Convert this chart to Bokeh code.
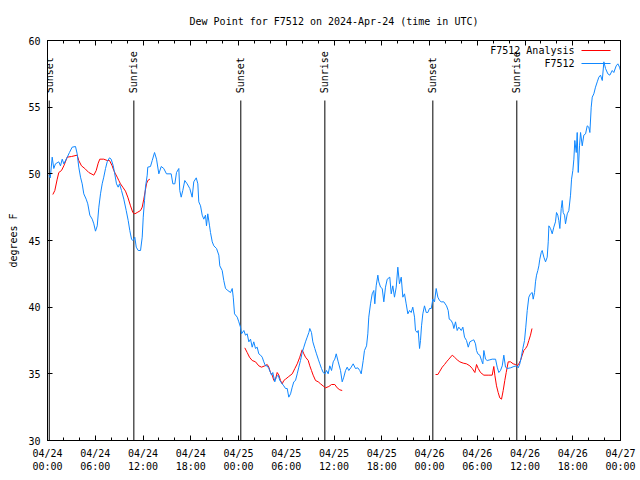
import pandas as pd
from math import pi
from bokeh.plotting import figure
from bokeh.models import (Range1d, FixedTicker, DatetimeTickFormatter, DatetimeAxis,
                          LinearAxis, Label, BoxAnnotation)
from bokeh.core.properties import value
from bokeh.embed import file_html
from bokeh.resources import INLINE

# ---------------- data (hours after 2024-04-24 00:00 UTC, degrees F) ----------------
START = pd.Timestamp("2024-04-24 00:00")

obs_hours = [0.2, 0.35, 0.59, 0.79, 1.0, 1.42, 1.63, 1.85, 2.05, 2.48, 2.76, 3.10, 3.52, 3.73, 3.93,
             4.15, 4.36, 4.56, 4.86, 5.06, 5.32, 5.62, 5.82, 6.03, 6.25, 6.45, 6.66, 6.87, 7.07, 7.29,
             7.50, 7.79, 8.0, 8.26, 8.42, 8.67, 8.88, 9.05, 9.30, 9.59, 9.89, 10.14, 10.34, 10.56,
             10.72, 10.97, 11.15, 11.40, 11.69, 11.90, 12.03, 12.19, 12.31, 12.53, 12.60, 12.94,
             13.16, 13.45, 13.70, 13.99, 14.29, 14.61, 14.95, 15.54, 15.75, 16.0, 16.21, 16.50,
             16.62, 16.80, 17.0, 17.25, 17.55, 17.88, 18.18, 18.38, 18.69, 18.89, 19.01, 19.23,
             19.44, 19.64, 19.85, 19.98, 20.14, 20.36, 20.48, 20.70, 20.90, 21.24, 21.53, 21.65,
             21.95, 22.15, 22.37, 22.66, 23.0, 23.21, 23.34, 23.50, 23.84, 24.04, 24.25, 24.38,
             24.67, 24.88, 25.09, 25.30, 25.51, 25.72, 25.92, 26.14, 26.35, 26.55, 26.77, 26.98,
             27.18, 27.39, 27.61, 27.81, 28.02, 28.15, 28.31, 28.56, 28.74, 28.99, 29.19, 29.49,
             29.69, 29.91, 30.12, 30.32, 30.54, 30.75, 30.95, 31.16, 31.38, 31.58, 31.79, 32.0,
             32.21, 32.42, 32.63, 32.84, 32.96, 33.17, 33.34, 33.59, 33.80, 34.02, 34.22, 34.43,
             34.64, 34.85, 35.06, 35.27, 35.47, 35.69, 35.90, 36.10, 36.28, 36.53, 36.82, 37.03,
             37.23, 37.45, 37.66, 37.86, 38.16, 38.41, 38.70, 38.99, 39.24, 39.42, 39.67, 39.83,
             40.09, 40.25, 40.37, 40.59, 40.80, 41.0, 41.13, 41.30, 41.51, 41.63, 41.85, 42.06,
             42.26, 42.47, 42.69, 43.01, 43.19, 43.39, 43.60, 43.82, 44.02, 44.23, 44.45, 44.65,
             44.86, 45.07, 45.28, 45.49, 45.70, 45.90, 46.12, 46.24, 46.46, 46.58, 46.75, 46.87,
             47.0, 47.16, 47.37, 47.59, 47.79, 48.0, 48.22, 48.42, 48.63, 48.84, 49.05, 49.26,
             49.47, 49.80, 50.14, 50.35, 50.48, 50.73, 50.93, 51.06, 51.27, 51.48, 51.68, 51.99,
             52.19, 52.40, 52.65, 52.87, 53.07, 53.37, 53.57, 53.78, 53.91, 54.07, 54.32, 54.54,
             54.70, 54.83, 55.04, 55.25, 55.58, 55.88, 56.30, 56.51, 56.71, 56.92, 57.14, 57.34,
             57.55, 57.77, 58.18, 58.60, 58.94, 59.15, 59.35, 59.53, 59.73, 59.94, 60.10, 60.28,
             60.48, 60.69, 60.91, 61.03, 61.20, 61.32, 61.45, 61.61, 61.74, 61.86, 62.04, 62.16,
             62.37, 62.58, 62.79, 62.92, 63.0, 63.21, 63.42, 63.62, 63.83, 63.96, 64.12, 64.25,
             64.38, 64.55, 64.68, 64.80, 64.97, 65.09, 65.31, 65.51, 65.72, 65.85, 66.01, 66.14,
             66.26, 66.44, 66.56, 66.69, 66.85, 66.98, 67.19, 67.39, 67.61, 67.82, 68.02, 68.15,
             68.32, 68.45, 68.65, 68.86, 69.08, 69.28, 69.49, 69.71, 69.91, 70.12, 70.41, 70.66,
             70.96, 71.16, 71.46, 71.67, 71.88, 72.0]
obs_dewpt = [49.9, 49.7, 51.25, 50.4, 50.75, 50.9, 50.6, 51.1, 50.75, 51.25, 51.6, 52.0, 52.05, 51.5, 50.5,
             49.75, 49.25, 48.5, 48.1, 47.75, 46.9, 46.6, 46.25, 45.7, 46.1, 47.5, 48.5, 49.25, 49.75, 50.4,
             50.9, 51.2, 51.1, 50.6, 50.1, 49.25, 49.0, 49.25, 48.75, 48.1, 47.25, 46.5, 45.75, 45.1,
             45.0, 45.25, 44.5, 44.25, 44.25, 45.25, 46.75, 48.0, 49.0, 49.9, 50.5, 50.55,
             51.0, 51.6, 51.1, 50.0, 50.55, 50.4, 50.0, 50.0, 49.25, 49.25, 50.1, 50.4,
             48.75, 48.25, 48.75, 49.5, 49.25, 48.9, 48.25, 49.4, 49.7, 49.25, 47.9, 47.6,
             46.9, 46.6, 46.9, 46.1, 47.0, 46.1, 45.6, 44.9, 44.6, 44.4, 43.9, 43.1,
             42.75, 42.0, 41.4, 41.25, 41.1, 41.4, 40.75, 39.5, 39.25, 38.9, 38.5, 38.0,
             38.25, 37.9, 38.0, 37.4, 37.6, 37.0, 37.4, 36.9, 37.0, 36.5, 36.4, 36.25,
             35.9, 35.6, 35.6, 35.4, 35.1, 34.9, 35.1, 34.4, 34.75, 34.9, 34.5, 34.25,
             34.1, 33.9, 33.9, 33.25, 33.5, 34.0, 34.4, 34.5, 35.0, 35.5, 36.0, 36.6,
             37.0, 37.4, 37.75, 38.1, 38.4, 38.1, 37.4, 36.9, 36.5, 36.1, 35.75, 35.4,
             35.1, 35.0, 35.25, 35.0, 35.6, 35.25, 35.9, 36.1, 36.5, 35.9, 35.25, 34.4,
             34.75, 35.25, 35.5, 35.25, 35.5, 35.75, 35.4, 35.45, 35.25, 35.0, 36.0, 36.75,
             37.1, 38.0, 39.25, 40.25, 41.0, 41.25, 40.25, 41.6, 42.4, 41.9, 41.5, 41.4,
             40.4, 41.5, 42.1, 42.25, 41.0, 41.6, 40.75, 41.5, 43.0, 41.75, 42.25, 40.75,
             41.0, 40.25, 39.5, 39.75, 39.6, 40.0, 39.25, 38.25, 38.1, 38.25, 36.9, 37.5,
             38.6, 39.5, 40.1, 39.6, 39.6, 39.9, 39.9, 40.6, 40.4, 41.4, 40.75, 40.5,
             40.4, 40.4, 40.1, 39.75, 39.1, 39.0, 38.75, 38.4, 38.9, 38.25, 38.5, 38.25,
             38.5, 37.75, 37.5, 37.0, 37.4, 37.5, 37.55, 37.25, 36.75, 36.5, 36.4, 36.0,
             35.75, 36.75, 36.1, 36.0, 36.05, 36.1, 36.1, 35.5, 35.1, 35.25, 35.6, 36.4,
             35.5, 35.4, 35.45, 35.55, 35.6, 35.45, 35.75, 36.25, 36.9, 37.5, 38.5, 39.75,
             40.75, 41.0, 41.1, 40.6, 41.1, 41.9, 42.4, 42.75, 43.1, 43.6, 44.1, 44.25,
             43.75, 43.4, 43.75, 44.9, 46.1, 45.9, 45.5, 46.0, 46.4, 47.1, 46.9, 46.5,
             45.9, 47.4, 48.0, 47.1, 46.9, 46.25, 47.0, 47.25, 48.4, 49.6, 50.25, 51.1,
             52.5, 51.6, 53.1, 50.1, 52.1, 53.1, 52.1, 52.9, 53.0, 53.6, 53.5, 53.1,
             55.0, 55.75, 56.0, 56.5, 56.9, 57.25, 57.4, 57.0, 58.4, 57.9, 57.5, 57.4,
             57.75, 57.6, 58.1, 58.25, 58.0, 57.75]

# analysis series, three separate runs
ana1_hours = [0.67, 0.92, 1.22, 1.42, 1.76, 2.05, 2.48, 3.02, 3.73, 3.93, 4.27, 4.69, 5.19, 5.82, 6.12,
              6.37, 6.57, 7.07, 7.50, 7.79, 8.13, 8.33, 8.54, 8.76, 8.96, 9.17, 9.46, 9.80, 10.09,
              10.43, 10.72, 10.97, 11.27, 11.69, 11.90, 12.10, 12.44, 12.60, 12.86]
ana1_dewpt = [48.45, 48.75, 49.6, 50.1, 50.25, 50.6, 51.25, 51.3, 51.4, 51.0, 50.6, 50.4, 50.1, 49.9, 50.25,
              50.8, 51.1, 51.1, 51.0, 51.0, 50.6, 50.25, 50.0, 49.75, 49.5, 49.25, 49.0, 48.7, 48.25,
              47.6, 47.1, 47.0, 47.1, 47.25, 47.5, 48.1, 49.25, 49.5, 49.6]
ana2_hours = [24.79, 25.09, 25.38, 25.72, 26.14, 26.55, 26.89, 27.31, 27.61, 27.81, 28.02, 28.24, 28.44,
              28.65, 28.86, 29.07, 29.28, 29.49, 29.69, 29.91, 30.32, 30.75, 31.08, 31.38, 31.70,
              32.0, 32.21, 32.42, 32.76, 32.96, 33.17, 33.38, 33.68, 34.02, 34.31, 34.72, 34.93,
              35.35, 35.69, 36.10, 36.40, 36.73, 37.03]
ana2_dewpt = [36.95, 36.6, 36.25, 36.0, 35.9, 35.6, 35.5, 35.6, 35.7, 35.5, 35.1, 34.9, 34.5,
              34.6, 35.1, 34.9, 34.5, 34.25, 34.5, 34.6, 34.8, 35.0, 35.4, 35.75, 36.25,
              36.8, 36.5, 36.25, 36.0, 35.6, 35.25, 34.9, 34.5, 34.4, 34.25, 34.05, 33.95,
              34.05, 34.2, 34.2, 33.95, 33.8, 33.75]
ana3_hours = [48.76, 49.05, 49.30, 49.60, 49.89, 50.14, 50.43, 50.86, 51.14, 51.48, 51.81, 52.24, 52.65,
              53.07, 53.37, 53.70, 53.91, 54.12, 54.41, 54.83, 55.46, 55.88, 56.08, 56.21, 56.42,
              56.63, 56.83, 57.05, 57.26, 57.46, 57.64, 57.89, 58.18, 58.52, 58.81, 59.02, 59.22,
              59.44, 59.65, 59.85, 60.07, 60.28, 60.48, 60.69, 60.88]
ana3_dewpt = [34.95, 34.95, 35.2, 35.5, 35.7, 35.9, 36.1, 36.4, 36.25, 36.05, 35.9, 35.8, 35.75,
              35.6, 35.4, 35.1, 35.7, 35.4, 35.1, 34.9, 34.9, 34.9, 35.55, 34.9, 34.1,
              33.6, 33.2, 33.1, 33.75, 34.5, 35.1, 35.9, 35.9, 35.75, 35.7, 35.6, 35.75,
              36.0, 36.4, 36.75, 36.9, 37.1, 37.5, 37.9, 38.4]

sun_hours = [0.22, 10.85, 24.29, 34.85, 48.42, 58.97]
sun_names = ["Sunset", "Sunrise", "Sunset", "Sunrise", "Sunset", "Sunrise"]

y_ticks = [30, 35, 40, 45, 50, 55, 60]
x_major_hours = [0, 6, 12, 18, 24, 30, 36, 42, 48, 54, 60, 66, 72]
x_minor_hours = list(range(0, 73, 2))

Y_MIN, Y_MAX = 30, 60
SUN_LINE_TOP = 0.85     # fraction of the plot height
SUN_TEXT_POS = 0.868

BLUE = "#0f87ff"
RED = "#ff0000"
MONO = "DejaVu Sans Mono"


def to_time(hours):
    return [START + pd.Timedelta(hours=h) for h in hours]


def to_ms(hours):
    return [(START + pd.Timedelta(hours=h)).value / 1e6 for h in hours]


# ---------------- figure ----------------
p = figure(width=640, height=480, output_backend="svg", toolbar_location=None,
           x_axis_type="datetime",
           x_range=Range1d(START, START + pd.Timedelta(hours=72)),
           y_range=Range1d(Y_MIN, Y_MAX),
           min_border_left=47, min_border_right=20, min_border_top=40, min_border_bottom=40,
           title="Dew Point for F7512 on 2024-Apr-24 (time in UTC)")
p.title.align = "center"
p.title.text_font = MONO
p.title.text_font_size = "10px"
p.title.text_font_style = "normal"
p.title.text_color = "black"
p.title.standoff = 27
p.xgrid.visible = False
p.ygrid.visible = False
p.outline_line_color = "black"
p.outline_line_alpha = 1
p.background_fill_color = "white"
p.border_fill_color = "white"

xt = FixedTicker(ticks=to_ms(x_major_hours), minor_ticks=to_ms(x_minor_hours))
yt = FixedTicker(ticks=y_ticks, minor_ticks=[])
fmt = "%m/%d\n%H:%M"
xfmt = DatetimeTickFormatter(microseconds=fmt, milliseconds=fmt, seconds=fmt, minsec=fmt,
                             minutes=fmt, hourmin=fmt, hours=fmt, days=fmt, months=fmt, years=fmt)


def style_axis(ax, show_labels):
    ax.axis_line_color = "black"
    ax.major_tick_line_color = "black"
    ax.minor_tick_line_color = "black"
    ax.major_tick_in = 5
    ax.major_tick_out = 0
    ax.minor_tick_in = 3
    ax.minor_tick_out = 0
    ax.major_label_text_font = MONO
    if show_labels:
        ax.major_label_text_font_size = "10px"
        ax.major_label_text_color = "black"
        ax.major_label_standoff = 7
    else:
        # mirror axis: ticks only, labels not drawn at all
        ax.major_label_text_font_size = "10px"
        ax.major_label_text_color = None
        ax.major_label_standoff = 0


xa = p.xaxis[0]
xa.ticker = xt
xa.formatter = xfmt
style_axis(xa, True)
ya = p.yaxis[0]
ya.ticker = yt
style_axis(ya, True)
ya.axis_label = "degrees F"
ya.axis_label_text_font = MONO
ya.axis_label_text_font_size = "10px"
ya.axis_label_text_font_style = "normal"
ya.axis_label_text_color = "black"
ya.axis_label_standoff = 6

top = DatetimeAxis(ticker=xt, formatter=xfmt)
style_axis(top, False)
p.add_layout(top, "above")
right = LinearAxis(ticker=yt)
style_axis(right, False)
p.add_layout(right, "right")

# sunrise / sunset markers
line_top = Y_MIN + SUN_LINE_TOP * (Y_MAX - Y_MIN)
text_y = Y_MIN + SUN_TEXT_POS * (Y_MAX - Y_MIN)
p.segment(x0=to_time(sun_hours), y0=[Y_MIN] * len(sun_hours),
          x1=to_time(sun_hours), y1=[line_top] * len(sun_hours),
          line_color="black", line_width=1)
p.text(x=to_time(sun_hours), y=[text_y] * len(sun_hours), text=sun_names,
       angle=pi / 2, text_align="left", text_baseline="middle",
       text_font=value(MONO), text_font_size="10px", text_color="black")

# series
for hrs, vals in [(ana1_hours, ana1_dewpt), (ana2_hours, ana2_dewpt), (ana3_hours, ana3_dewpt)]:
    p.line(to_time(hrs), vals, line_color=RED, line_width=1)
p.line(to_time(obs_hours), obs_dewpt, line_color=BLUE, line_width=1)

# gnuplot-style key (text then sample line), top-right inside the frame
# (screen units are relative to the plot frame, measured from its bottom-left)
key = [("F7512 Analysis", RED), ("F7512", BLUE)]
for i, (lab, col) in enumerate(key):
    yc = 390 - 13 * i
    p.add_layout(Label(x=527, y=yc, x_units="screen", y_units="screen", text=lab,
                       text_align="right", text_baseline="middle",
                       text_font=MONO, text_font_size="10px", text_color="black"))
    p.add_layout(BoxAnnotation(left=534, right=563, bottom=yc - 0.5, top=yc + 0.5,
                               left_units="screen", right_units="screen",
                               bottom_units="screen", top_units="screen",
                               fill_color=col, fill_alpha=1, line_alpha=0))

open("out.html", "w").write(file_html(p, INLINE))
